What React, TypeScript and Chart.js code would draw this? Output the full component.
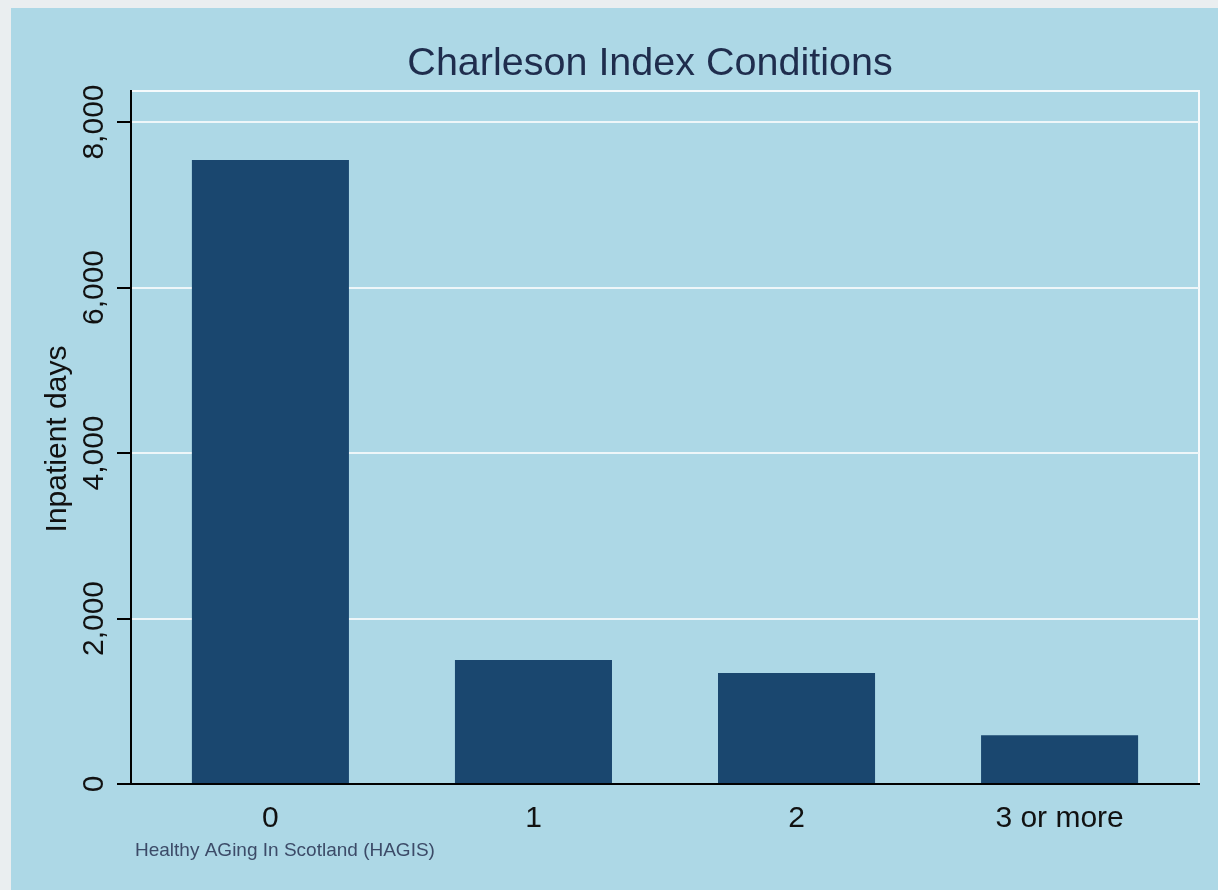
import React, { useEffect, useRef } from 'react';
import { Chart, registerables } from 'chart.js';

Chart.register(...registerables);

// ---- data ----
const categories = ['0', '1', '2', '3 or more'];
const inpatientDays = [7540, 1500, 1340, 590];
const yTicks = [0, 2000, 4000, 6000, 8000];
const yTickLabels = ['0', '2,000', '4,000', '6,000', '8,000'];
const yMax = 8375;
const titleText = 'Charleson Index Conditions';
const yTitleText = 'Inpatient days';
const captionText = 'Healthy AGing In Scotland (HAGIS)';

// ---- styles ----
const BG = '#add8e6';
const OUTER = '#eaeef0';
const BAR = '#1a476f';
const GRID = '#eef6f9';
const FONT = '"Liberation Sans", Arial, Helvetica, sans-serif';

const decor = {
  id: 'decor',
  beforeDraw(chart: any) {
    const { ctx, width, height, chartArea: a } = chart;
    ctx.save();
    ctx.fillStyle = BG;
    ctx.fillRect(0, 0, width, height);
    ctx.strokeStyle = '#f6fafc';
    ctx.lineWidth = 2;
    ctx.strokeRect(a.left, a.top, a.right - a.left, a.bottom - a.top);
    ctx.restore();
  },
  afterDraw(chart: any) {
    const { ctx, scales } = chart;
    const xs = scales.x;
    const ys = scales.y;
    ctx.save();
    // title
    ctx.fillStyle = '#1f2d4d';
    ctx.font = `39.5px ${FONT}`;
    ctx.textAlign = 'center';
    ctx.textBaseline = 'alphabetic';
    ctx.fillText(titleText, 639, 67);

    // y axis title
    ctx.save();
    ctx.fillStyle = '#111111';
    ctx.font = `30px ${FONT}`;
    ctx.translate(55, 431);
    ctx.rotate(-Math.PI / 2);
    ctx.textAlign = 'center';
    ctx.fillText(yTitleText, 0, 0);
    ctx.restore();

    // y tick labels (rotated)
    ctx.fillStyle = '#111111';
    ctx.font = `30px ${FONT}`;
    yTicks.forEach((v, i) => {
      const py = ys.getPixelForValue(v);
      ctx.save();
      ctx.translate(92, py);
      ctx.rotate(-Math.PI / 2);
      ctx.textAlign = 'center';
      ctx.fillText(yTickLabels[i], 0, 0);
      ctx.restore();
    });

    // x tick labels
    ctx.textAlign = 'center';
    categories.forEach((c, i) => {
      const px = xs.getPixelForValue(i);
      ctx.fillText(c, px, 819);
    });

    // caption
    ctx.fillStyle = '#3c4b68';
    ctx.font = `19px ${FONT}`;
    ctx.textAlign = 'left';
    ctx.fillText(captionText, 124, 848);
    ctx.restore();
  },
};

export default function App() {
  const ref = useRef<HTMLCanvasElement>(null);
  useEffect(() => {
    document.body.style.margin = '0';
    document.body.style.background = OUTER;
    const chart = new Chart(ref.current as HTMLCanvasElement, {
      type: 'bar',
      data: {
        datasets: [
          {
            data: inpatientDays.map((v, i) => ({ x: i, y: v })),
            backgroundColor: BAR,
            borderWidth: 0,
            barPercentage: 0.597,
            categoryPercentage: 1,
          },
        ],
      },
      options: {
        responsive: false,
        animation: false,
        devicePixelRatio: 1,
        layout: { padding: { top: 83, right: 19, bottom: 0, left: 0 } },
        plugins: {
          legend: { display: false },
          title: { display: false },
          tooltip: { enabled: false },
        },
        scales: {
          x: {
            type: 'linear',
            offset: false,
            min: -0.53,
            max: 3.53,
            afterBuildTicks: (s: any) => {
              s.ticks = categories.map((_, i) => ({ value: i }));
            },
            afterFit: (s: any) => {
              s.height = 106;
            },
            ticks: { display: false },
            grid: { display: true, offset: false, drawOnChartArea: false, drawTicks: false },
            border: { display: true, color: '#000000', width: 2 },
          },
          y: {
            type: 'linear',
            min: 0,
            max: yMax,
            afterBuildTicks: (s: any) => {
              s.ticks = yTicks.map((v) => ({ value: v }));
            },
            afterFit: (s: any) => {
              s.width = 120;
            },
            ticks: { display: false },
            grid: {
              color: (c: any) => (c.tick && c.tick.value === 0 ? 'rgba(0,0,0,0)' : GRID),
              lineWidth: 2,
              drawTicks: true,
              tickLength: 14,
              tickColor: '#000000',
              tickWidth: 2,
            },
            border: { display: true, color: '#000000', width: 2 },
          },
        },
      },
      plugins: [decor],
    } as any);
    return () => chart.destroy();
  }, []);
  return (
    <div
      style={{
        width: 1218,
        height: 890,
        background: OUTER,
        position: 'relative',
        overflow: 'hidden',
      }}
    >
      <canvas
        ref={ref}
        width={1207}
        height={882}
        style={{ position: 'absolute', left: 11, top: 8, width: 1207, height: 882, display: 'block' }}
      />
    </div>
  );
}
